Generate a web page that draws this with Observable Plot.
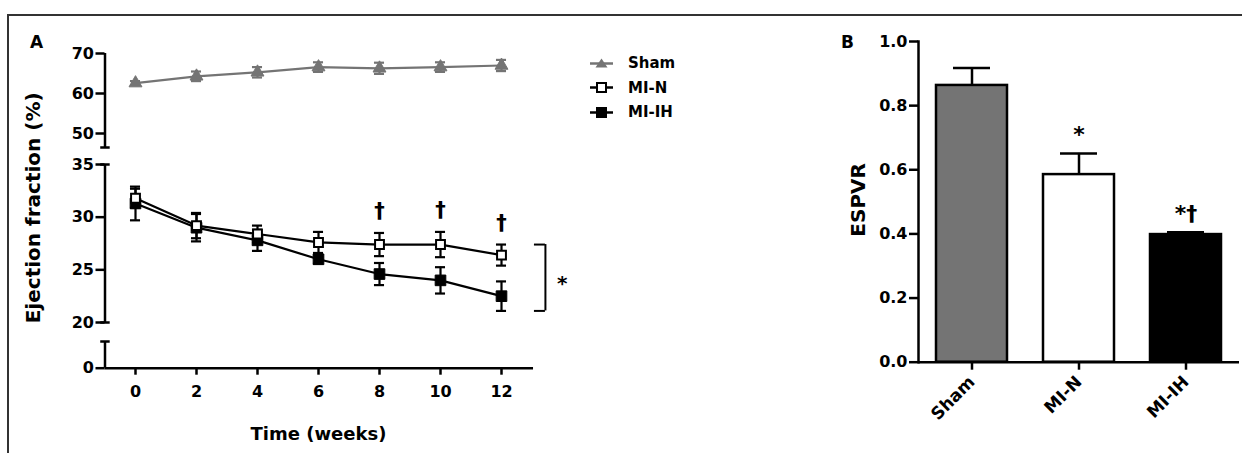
<!DOCTYPE html>
<html>
<head>
<meta charset="utf-8">
<script src="https://cdn.jsdelivr.net/npm/d3@7"></script>
<script src="https://cdn.jsdelivr.net/npm/@observablehq/plot@0.6"></script>
<style>
  html, body { margin: 0; padding: 0; background: #fff; }
  #wrap { position: relative; width: 1242px; height: 453px; overflow: hidden; background: #fff;
          font-family: "DejaVu Sans", sans-serif; font-weight: bold; color: #000; }
  #wrap > svg { position: absolute; left: 0; top: 0; }
  .frame { position: absolute; left: 7px; top: 14px; right: -5px; bottom: -5px;
           border-top: 2px solid #333; border-left: 2px solid #333; }
  #legend { position: absolute; left: 588px; top: 51px; font-size: 15px; }
  #legend .row { display: flex; align-items: center; height: 24.5px; }
  #legend svg { display: block; margin-right: 13px; }
</style>
</head>
<body>
<div id="wrap"><div class="frame"></div></div>
<script>
// ---------- Panel A data: ejection fraction (%) over time ----------
const weeks = [0, 2, 4, 6, 8, 10, 12];
const shamEF  = [62.6, 64.3, 65.3, 66.6, 66.3, 66.6, 67.0];
const shamSEM = [0.5, 1.2, 1.3, 1.2, 1.4, 1.2, 1.4];
const minEF   = [31.8, 29.2, 28.4, 27.6, 27.4, 27.4, 26.4];
const minSEM  = [0.9, 1.2, 0.8, 1.0, 1.1, 1.2, 1.0];
const mihEF   = [31.3, 29.0, 27.8, 26.0, 24.6, 24.0, 22.5];
const mihSEM  = [1.6, 1.3, 1.0, 0.4, 1.05, 1.25, 1.4];
const daggerWeeks = [8, 10, 12];
const seriesNames = ["Sham", "MI-N", "MI-IH"];
const yTicksA = [0, 20, 25, 30, 35, 50, 60, 70];
const axisSegmentsA = [[0, 5], [20, 35], [46.5, 70]];

// ---------- Panel B data: ESPVR ----------
const groups = ["Sham", "MI-N", "MI-IH"];
const espvr = [0.863, 0.585, 0.398];
const espvrSEM = [0.054, 0.066, 0.007];
const espvrSig = ["", "*", "*\u2020"];
const yTicksB = [0, 0.2, 0.4, 0.6, 0.8, 1.0];

// ---------- build tables ----------
const W = 1242, H = 453;
const GRAY = "#747474";
const seriesData = {"Sham": [shamEF, shamSEM], "MI-N": [minEF, minSEM], "MI-IH": [mihEF, mihSEM]};
const rowsA = [];
seriesNames.forEach(s => weeks.forEach((w, i) => rowsA.push({series: s, week: w, ef: seriesData[s][0][i], sem: seriesData[s][1][i]})));
const shamRows = rowsA.filter(d => d.series === "Sham");
const minRows = rowsA.filter(d => d.series === "MI-N");
const mihRows = rowsA.filter(d => d.series === "MI-IH");
const daggerRows = minRows.filter(d => daggerWeeks.includes(d.week));
const lastN = minRows[minRows.length - 1], lastH = mihRows[mihRows.length - 1];
const bracket = {top: lastN.ef + lastN.sem, bottom: lastH.ef - lastH.sem, x0: lastN.week + 1.08, x1: lastN.week + 1.44};
const cap = 0.165;
const colorA = d => d.series === "Sham" ? GRAY : "#000";

// broken (piecewise) y axis: value -> virtual linear units
const breakY = d3.scaleLinear().domain([0, 5, 20, 35, 46.5, 70]).range([0, 26.7, 45.7, 203.7, 220.7, 314.7]);

const plotA = Plot.plot({
  width: W, height: H,
  marginLeft: 104.5, marginRight: W - 531.5, marginTop: 53, marginBottom: H - 367.7,
  x: {domain: [-1, 13]},
  y: {transform: breakY, domain: [0, 314.7]},
  style: {fontFamily: "DejaVu Sans", fontWeight: "bold", background: "transparent", overflow: "visible", color: "#000"},
  marks: [
    // axis lines (broken y axis)
    Plot.ruleX(axisSegmentsA, {x: -1, y1: d => d[0], y2: d => d[1], strokeWidth: 2.5, stroke: "#000"}),
    Plot.ruleY([5, 20, 35, 46.5], {x1: -1.14, x2: -0.83, strokeWidth: 2.5, stroke: "#000"}),
    Plot.ruleY([0], {x1: -1, x2: 13.05, strokeWidth: 2.5, stroke: "#000"}),
    Plot.axisY(yTicksA, {tickSize: 9, tickPadding: 2, fontSize: 16, strokeWidth: 2.5, label: null}),
    Plot.axisX(weeks, {tickSize: 7, tickPadding: 10, fontSize: 16, strokeWidth: 2.5, label: null}),
    // error bars
    Plot.ruleX(rowsA, {x: "week", y1: d => d.ef - d.sem, y2: d => d.ef + d.sem, stroke: colorA, strokeWidth: 2.2}),
    Plot.ruleY(rowsA, {y: d => d.ef + d.sem, x1: d => d.week - cap, x2: d => d.week + cap, stroke: colorA, strokeWidth: 2.2}),
    Plot.ruleY(rowsA, {y: d => d.ef - d.sem, x1: d => d.week - cap, x2: d => d.week + cap, stroke: colorA, strokeWidth: 2.2}),
    // lines
    Plot.line(shamRows, {x: "week", y: "ef", stroke: GRAY, strokeWidth: 2.2}),
    Plot.line(minRows, {x: "week", y: "ef", stroke: "#000", strokeWidth: 2.2}),
    Plot.line(mihRows, {x: "week", y: "ef", stroke: "#000", strokeWidth: 2.2}),
    // markers
    Plot.dot(shamRows, {x: "week", y: "ef", symbol: "triangle", r: 4.8, fill: GRAY, stroke: GRAY, strokeWidth: 1}),
    Plot.dot(mihRows, {x: "week", y: "ef", symbol: "square", r: 6, fill: "#000", stroke: "#000", strokeWidth: 1}),
    Plot.dot(minRows, {x: "week", y: "ef", symbol: "square", r: 5, fill: "#fff", stroke: "#000", strokeWidth: 2}),
    // significance daggers
    Plot.text(daggerRows, {x: "week", y: d => d.ef + d.sem, text: () => "\u2020", lineAnchor: "bottom", dy: -15, fontSize: 21}),
    // bracket with star
    Plot.ruleX([bracket], {x: "x1", y1: "bottom", y2: "top", strokeWidth: 2, stroke: "#000"}),
    Plot.ruleY([bracket], {y: "top", x1: "x0", x2: "x1", strokeWidth: 2, stroke: "#000"}),
    Plot.ruleY([bracket], {y: "bottom", x1: "x0", x2: "x1", strokeWidth: 2, stroke: "#000"}),
    Plot.text([bracket], {x: d => d.x1 + 0.55, y: d => (d.top + d.bottom) / 2, text: () => "*", lineAnchor: "bottom", dy: 12, fontSize: 20}),
    // titles
    Plot.text(["Ejection fraction (%)"], {frameAnchor: "left", textAnchor: "middle", lineAnchor: "middle", rotate: -90, dx: -71.5, dy: -3, fontSize: 20}),
    Plot.text(["Time (weeks)"], {frameAnchor: "bottom", textAnchor: "middle", lineAnchor: "middle", dy: 66, fontSize: 18}),
    Plot.text(["A"], {frameAnchor: "top-left", textAnchor: "middle", lineAnchor: "middle", dx: -68.5, dy: -11, fontSize: 17})
  ]
});

const rowsB = groups.map((g, i) => ({group: g, v: espvr[i], sem: espvrSEM[i], sig: espvrSig[i]}));
const plotB = Plot.plot({
  width: W, height: H,
  marginLeft: 918, marginRight: 3, marginTop: 41, marginBottom: H - 361.7,
  x: {domain: groups, paddingInner: 0.34, paddingOuter: 0.17},
  y: {domain: [0, 1]},
  color: {domain: groups, range: [GRAY, "#ffffff", "#000000"]},
  style: {fontFamily: "DejaVu Sans", fontWeight: "bold", background: "transparent", overflow: "visible", color: "#000"},
  marks: [
    Plot.barY(rowsB, {x: "group", y: "v", fill: "group", stroke: "#000", strokeWidth: 2.5}),
    Plot.ruleX(rowsB, {x: "group", y1: "v", y2: d => d.v + d.sem, strokeWidth: 2.5, stroke: "#000"}),
    Plot.tickY(rowsB, {x: "group", y: d => d.v + d.sem, insetLeft: 17, insetRight: 17, strokeWidth: 2.5, stroke: "#000"}),
    Plot.text(rowsB, {x: "group", y: d => d.v + d.sem, text: "sig", lineAnchor: "bottom", dy: -11, fontSize: 22, fill: "#000"}),
    Plot.ruleY([0], {strokeWidth: 2.5, stroke: "#000"}),
    Plot.frame({anchor: "left", strokeWidth: 2.5, stroke: "#000"}),
    Plot.axisY(yTicksB, {tickSize: 9, tickPadding: 2, fontSize: 16, strokeWidth: 2.5, label: null, tickFormat: d3.format(".1f")}),
    Plot.axisX({tickSize: 8, tickPadding: 9, tickRotate: -45, fontSize: 17, strokeWidth: 2.5, label: null}),
    Plot.text(["ESPVR"], {frameAnchor: "left", textAnchor: "middle", lineAnchor: "middle", rotate: -90, dx: -60, dy: -2, fontSize: 20}),
    Plot.text(["B"], {frameAnchor: "top-left", textAnchor: "middle", lineAnchor: "middle", dx: -71, dy: 1, fontSize: 17})
  ]
});

const wrap = document.getElementById("wrap");
wrap.appendChild(plotA);
wrap.appendChild(plotB);

// ---------- legend for panel A ----------
const legend = document.createElement("div");
legend.id = "legend";
seriesNames.forEach(name => {
  const row = document.createElement("div");
  row.className = "row";
  const col = name === "Sham" ? GRAY : "#000";
  let marker;
  if (name === "Sham") marker = `<polygon points="13.5,3.5 19.5,12.5 7.5,12.5" fill="${col}"/>`;
  else if (name === "MI-N") marker = `<rect x="9" y="4" width="9" height="9" fill="#fff" stroke="#000" stroke-width="2"/>`;
  else marker = `<rect x="8" y="3" width="11" height="11" fill="#000"/>`;
  row.innerHTML = `<svg width="27" height="17" viewBox="0 0 27 17"><line x1="2" x2="25" y1="8.5" y2="8.5" stroke="${col}" stroke-width="2.5"/>${marker}</svg><span>${name}</span>`;
  legend.appendChild(row);
});
wrap.appendChild(legend);
</script>
</body>
</html>
